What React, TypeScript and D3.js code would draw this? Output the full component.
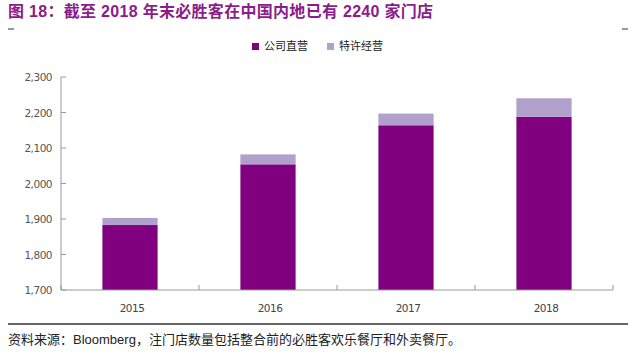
import React from "react";
import * as d3 from "d3";

const years = ["2015", "2016", "2017", "2018"];
const direct = [1883, 2054, 2164, 2188];
const franchise = [20, 28, 33, 52];
const yTicks = [1700, 1800, 1900, 2000, 2100, 2200, 2300];
const seriesNames = ["公司直营", "特许经营"];
const colors = ["#800080", "#B0A0CB"];

const W = 640, H = 355;
const m = { left: 61, right: 613, top: 77, bottom: 290 };

export default function App() {
  const x = d3.scaleBand().domain(years).range([m.left, m.right]).paddingInner(0.6).paddingOuter(0.3);
  const band = d3.scaleBand().domain(years).range([m.left, m.right]);
  const y = d3.scaleLinear().domain([1700, 2300]).range([m.bottom, m.top]);
  const stack = years.map((yr, i) => ({ yr, d: direct[i], f: franchise[i] }));
  const fmt = d3.format(",");
  const cjk = "'Noto Sans CJK SC', sans-serif";
  return (
    <svg width={W} height={H} style={{ position: "absolute", left: 0, top: 0, background: "#fff" }}>
      <text x={8} y={17} fontFamily={`'Liberation Sans', ${cjk}`} fontWeight="bold" fontSize={16} letterSpacing={0.3} fill="#8B1C8A">
        图 18：截至 2018 年末必胜客在中国内地已有 2240 家门店
      </text>
      <line x1={8} x2={14} y1={29} y2={29} stroke="#333" strokeWidth={1} />
      <line x1={622} x2={628} y1={29} y2={29} stroke="#333" strokeWidth={1} />

      {/* legend */}
      <rect x={252} y={43} width={7} height={7} fill={colors[0]} />
      <text x={264} y={50} fontFamily={cjk} fontSize={11} fill="#222">{seriesNames[0]}</text>
      <rect x={327} y={43} width={7} height={7} fill={colors[1]} />
      <text x={339} y={50} fontFamily={cjk} fontSize={11} fill="#222">{seriesNames[1]}</text>

      {/* y axis */}
      <line x1={m.left} x2={m.left} y1={y(2300)} y2={m.bottom} stroke="#999" />
      {yTicks.map((t) => (
        <g key={t}>
          <line x1={m.left} x2={m.left + 5} y1={y(t)} y2={y(t)} stroke="#999" />
          <text x={52} y={y(t) + 4} textAnchor="end" fontFamily="'DejaVu Sans', sans-serif" fontSize={10.5} fill="#555" letterSpacing={-0.5}>
            {fmt(t)}
          </text>
        </g>
      ))}

      {/* bars */}
      {stack.map((s) => (
        <g key={s.yr}>
          <rect x={x(s.yr)} width={x.bandwidth()} y={y(s.d)} height={y(1700) - y(s.d)} fill={colors[0]} />
          <rect x={x(s.yr)} width={x.bandwidth()} y={y(s.d + s.f)} height={y(s.d) - y(s.d + s.f)} fill={colors[1]} />
        </g>
      ))}

      {/* x axis */}
      <line x1={m.left} x2={m.right} y1={m.bottom} y2={m.bottom} stroke="#999" />
      {[...years.map((yr) => band(yr)!), m.right].map((v, i) => (
        <line key={i} x1={v} x2={v} y1={m.bottom} y2={m.bottom - 5} stroke="#999" />
      ))}
      {years.map((yr) => (
        <text key={yr} x={band(yr)! + band.bandwidth() / 2 + 2} y={312} textAnchor="middle" fontFamily="'DejaVu Sans', sans-serif" fontSize={10.5} fill="#444" letterSpacing={-0.5}>
          {yr}
        </text>
      ))}

      <line x1={8} x2={628} y1={324} y2={324} stroke="#333" strokeWidth={1.5} />
      <text x={8} y={344} fontFamily={cjk} fontSize={13} fill="#222">
        资料来源：<tspan fontFamily="'Liberation Sans', sans-serif">Bloomberg</tspan>，注门店数量包括整合前的必胜客欢乐餐厅和外卖餐厅。
      </text>
    </svg>
  );
}
